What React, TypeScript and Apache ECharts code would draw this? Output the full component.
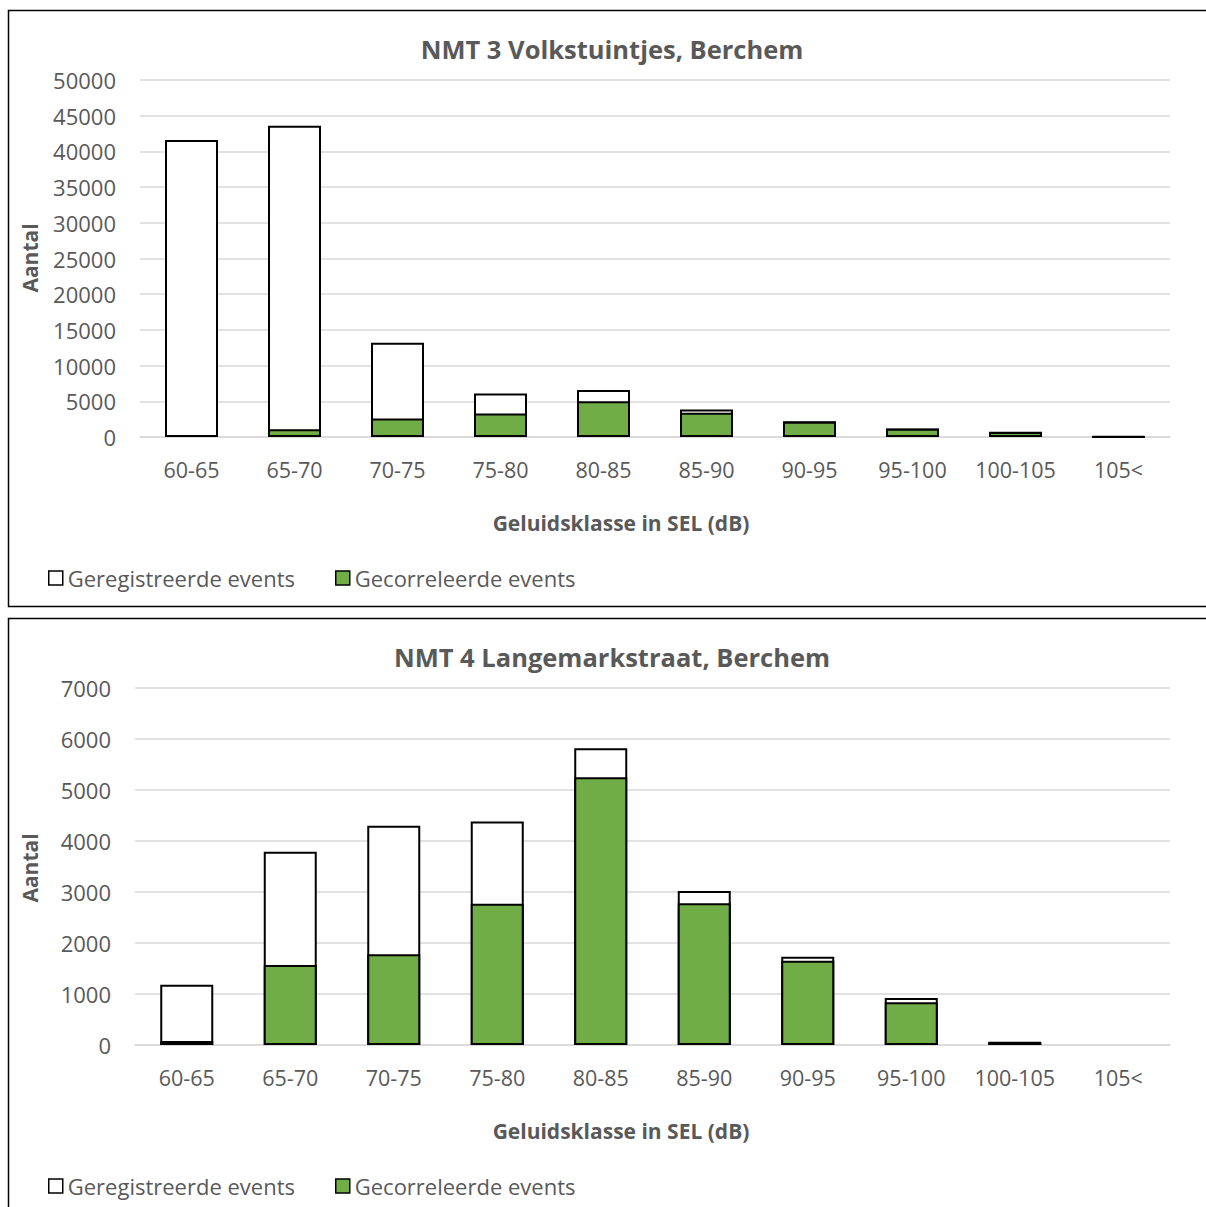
import React, { useEffect, useRef } from 'react';
import * as echarts from 'echarts';

const categories = ['60-65', '65-70', '70-75', '75-80', '80-85', '85-90', '90-95', '95-100', '100-105', '105<'];
const nmt3Registered = [41600, 43600, 13200, 6100, 6600, 3850, 2200, 1200, 750, 100];
const nmt3Correlated = [250, 1100, 2600, 3300, 5000, 3400, 2150, 1150, 700, 30];
const nmt4Registered = [1180, 3790, 4300, 4380, 5820, 3020, 1730, 920, 65, 0];
const nmt4Correlated = [80, 1570, 1780, 2770, 5250, 2780, 1650, 840, 40, 0];
const titles = ['NMT 3 Volkstuintjes, Berchem', 'NMT 4 Langemarkstraat, Berchem'];
const seriesNames = ['Geregistreerde events', 'Gecorreleerde events'];
const yAxisName = 'Aantal';
const xAxisName = 'Geluidsklasse in SEL (dB)';

const FONT = "'Open Sans', sans-serif";
const GREY = '#595959';
const GREEN = '#70AD47';

export default function App() {
  const ref = useRef<HTMLDivElement>(null);
  useEffect(() => {
    if (!ref.current) return;
    const chart = echarts.init(ref.current, undefined, { renderer: 'svg' });
    const panels = [
      { top: 80, left: 140, max: 50000, interval: 5000, reg: nmt3Registered, cor: nmt3Correlated, boxTop: 10, boxH: 596, titleY: 49, aantalY: 258, xnameY: 523, legendY: 579 },
      { top: 688, left: 135, max: 7000, interval: 1000, reg: nmt4Registered, cor: nmt4Correlated, boxTop: 618, boxH: 600, titleY: 657, aantalY: 868, xnameY: 1131, legendY: 1187 },
    ];
    const noZero = (arr: number[]) => arr.map((v) => (v === 0 ? null : v));
    const grid = panels.map((p) => ({ left: p.left, right: 36, top: p.top, height: 357, containLabel: false }));
    const xAxis = panels.map((p, i) => ({
      type: 'category',
      gridIndex: i,
      data: categories,
      axisLine: { lineStyle: { color: '#d9d9d9', width: 1.5 } },
      axisTick: { show: false },
      axisLabel: { color: GREY, fontFamily: FONT, fontSize: 21.5, margin: 21, interval: 0, hideOverlap: false },
    }));
    const yAxis = panels.map((p, i) => ({
      type: 'value',
      gridIndex: i,
      min: 0,
      max: p.max,
      interval: p.interval,
      axisLine: { show: false },
      axisTick: { show: false },
      splitLine: { lineStyle: { color: '#d9d9d9', width: 1.5 } },
      axisLabel: { color: GREY, fontFamily: FONT, fontSize: 22, margin: 24, formatter: (v: number) => String(v) },
    }));
    const series: any[] = [];
    panels.forEach((p, i) => {
      series.push({
        type: 'bar',
        name: seriesNames[0],
        xAxisIndex: i,
        yAxisIndex: i,
        data: noZero(p.reg),
        barWidth: 53,
        barGap: '-100%',
        itemStyle: { color: '#ffffff', borderColor: '#000000', borderWidth: 2 },
      });
      series.push({
        type: 'bar',
        name: seriesNames[1],
        xAxisIndex: i,
        yAxisIndex: i,
        data: noZero(p.cor),
        barWidth: 53,
        barGap: '-100%',
        itemStyle: { color: GREEN, borderColor: '#000000', borderWidth: 2 },
      });
    });
    const legend = panels.map((p) => ({
      data: seriesNames,
      left: 43,
      top: p.legendY - 17,
      icon: 'rect',
      itemWidth: 14,
      itemHeight: 14,
      itemGap: 40,
      selectedMode: false,
      itemStyle: { borderColor: '#000', borderWidth: 1.5 },
      textStyle: { color: GREY, fontFamily: FONT, fontSize: 22, padding: [0, 0, 0, 0] },
    }));
    const graphic: any[] = [];
    panels.forEach((p, i) => {
      graphic.push({
        type: 'rect',
        shape: { x: 8.5, y: p.boxTop + 0.5, width: 1300, height: p.boxH },
        style: { fill: 'none', stroke: '#000', lineWidth: 1.5 },
        silent: true,
        z: -1,
      });
      graphic.push({
        type: 'text',
        x: 612,
        y: p.titleY,
        style: { text: titles[i], fill: GREY, font: `bold 25.5px ${FONT}`, textAlign: 'center', textVerticalAlign: 'middle' },
      });
      graphic.push({
        type: 'text',
        x: 30,
        y: p.aantalY,
        rotation: Math.PI / 2,
        style: { text: yAxisName, fill: GREY, font: `bold 21px ${FONT}`, textAlign: 'center', textVerticalAlign: 'middle' },
      });
      graphic.push({
        type: 'text',
        x: 621,
        y: p.xnameY,
        style: { text: xAxisName, fill: GREY, font: `bold 21px ${FONT}`, textAlign: 'center', textVerticalAlign: 'middle' },
      });
    });
    chart.setOption({
      animation: false,
      backgroundColor: '#ffffff',
      grid,
      xAxis,
      yAxis,
      series,
      legend,
      graphic,
    });
    return () => chart.dispose();
  }, []);
  return <div ref={ref} style={{ position: 'absolute', left: 0, top: 0, width: 1206, height: 1207 }} />;
}
